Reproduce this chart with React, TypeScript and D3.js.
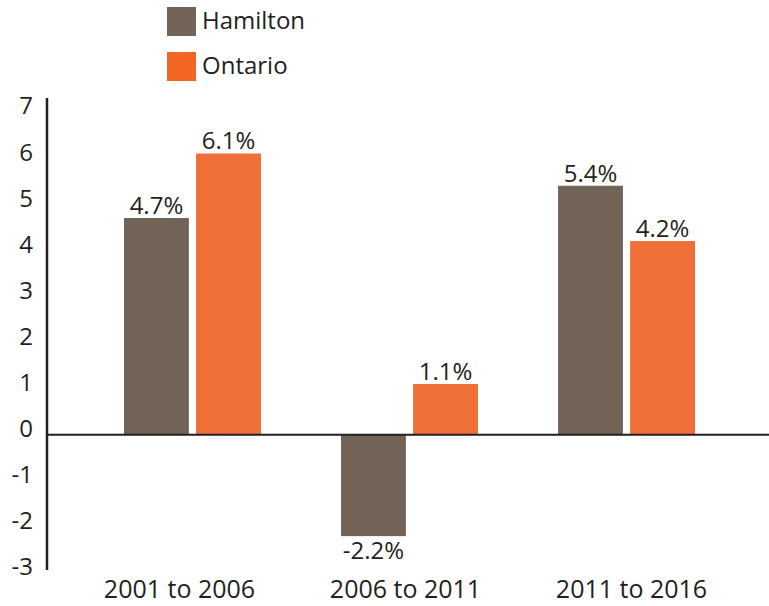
import React from "react";
import * as d3 from "d3";

const categories = ["2001 to 2006", "2006 to 2011", "2011 to 2016"];
const seriesNames = ["Hamilton", "Ontario"];
const hamilton = [4.7, -2.2, 5.4];
const ontario = [6.1, 1.1, 4.2];
const yTicks = [-3, -2, -1, 0, 1, 2, 3, 4, 5, 6, 7];
const colors = ["#726357", "#F06F38"];
const legendColors = ["#726357", "#F26522"];

const W = 769;
const H = 606;
const FONT = "'Open Sans', 'Noto Sans', sans-serif";
const INK = "#231f20";

export default function App() {
  const axisX = 47;
  const y = d3.scaleLinear().domain([-3, 7]).range([573, 112]);
  const x0 = d3.scaleBand<string>().domain(categories).range([124, 695]).paddingInner(0.369).paddingOuter(0);
  const x1 = d3.scaleBand<string>().domain(seriesNames).range([0, x0.bandwidth()]).paddingInner(0.1);
  const xLabel = d3.scalePoint<string>().domain(categories).range([179.5, 631.5]);
  const series = [hamilton, ontario];

  return (
    <svg width={W} height={H} style={{ position: "absolute", left: 0, top: 0, background: "#fff" }} fontFamily={FONT}>
      {/* legend */}
      {seriesNames.map((s, i) => (
        <g key={s}>
          <rect x={167} y={7 + i * 45} width={29} height={29} fill={legendColors[i]} />
          <text x={202} y={29 + i * 45} fontSize={24} fill={INK}>{s}</text>
        </g>
      ))}

      {/* bars */}
      {categories.map((c, ci) => (
        <g key={c} transform={`translate(${x0(c)},0)`}>
          {series.map((vals, si) => {
            const v = vals[ci];
            const bx = x1(seriesNames[si])!;
            const top = Math.min(y(v), y(0));
            const h = Math.abs(y(v) - y(0));
            return (
              <g key={si}>
                <rect x={bx} y={top} width={x1.bandwidth()} height={h} fill={colors[si]} />
                <text
                  x={bx + x1.bandwidth() / 2}
                  y={v >= 0 ? y(v) - 4 : y(v) + 23}
                  textAnchor="middle"
                  fontSize={24}
                  fill={INK}
                >
                  {v.toFixed(1)}%
                </text>
              </g>
            );
          })}
        </g>
      ))}

      {/* zero line */}
      <line x1={axisX} x2={W} y1={y(0)} y2={y(0)} stroke={INK} strokeWidth={2} />
      {/* y axis */}
      <line x1={axisX} x2={axisX} y1={98} y2={570} stroke={INK} strokeWidth={2.5} />
      {yTicks.map((t) => (
        <text key={t} x={33} y={y(t) - 6} dy="0.35em" textAnchor="end" fontSize={24} fill={INK}>
          {t}
        </text>
      ))}

      {/* x labels */}
      {categories.map((c) => (
        <text key={c} x={xLabel(c)} y={598} textAnchor="middle" fontSize={25} fill={INK}>
          {c}
        </text>
      ))}
    </svg>
  );
}
